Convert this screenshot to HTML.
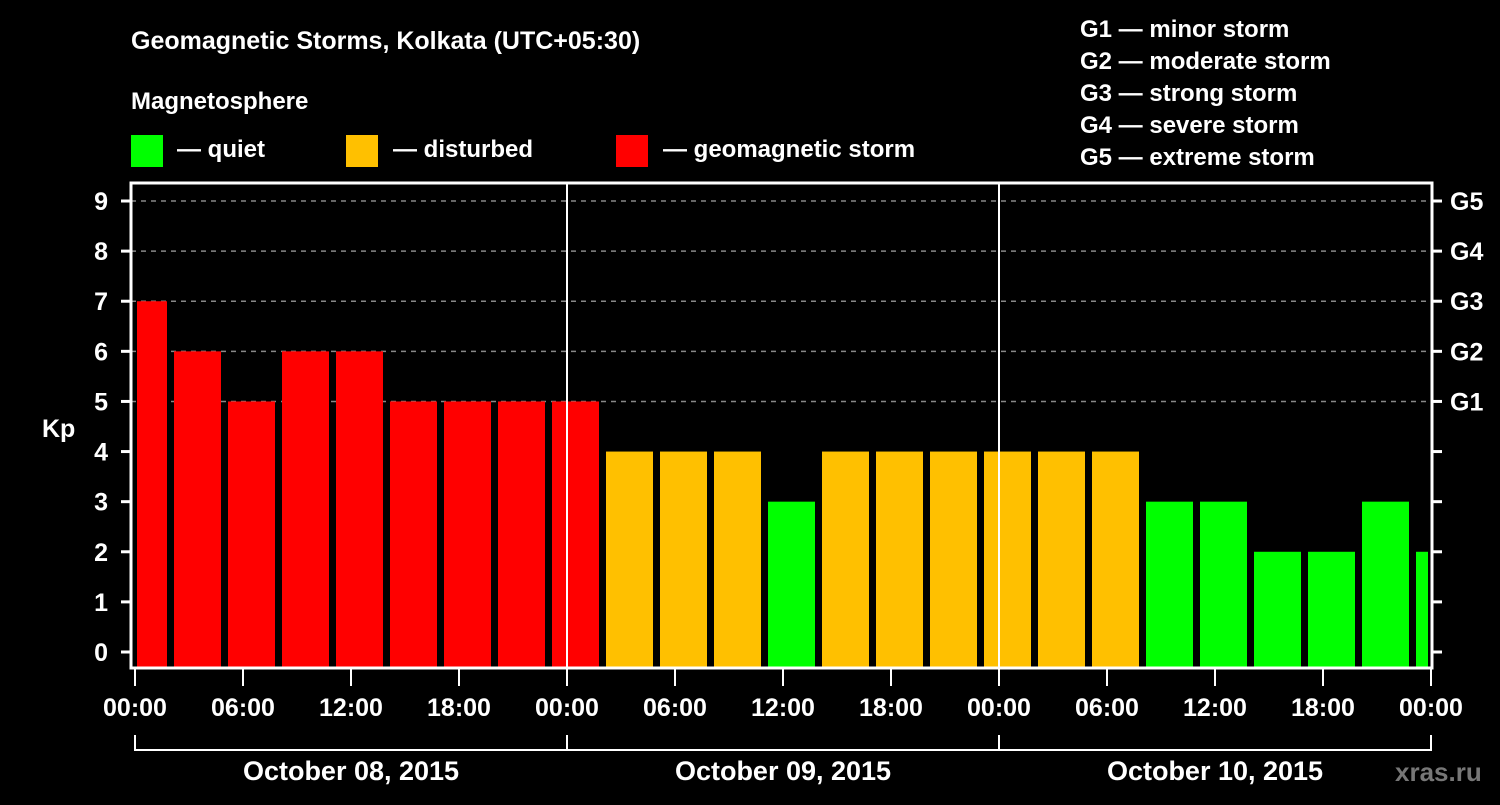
<!DOCTYPE html>
<html><head><meta charset="utf-8"><style>
body{margin:0;background:#000;width:1500px;height:800px;overflow:hidden;font-family:"Liberation Sans",sans-serif}
svg text{font-family:"Liberation Sans",sans-serif;font-weight:bold;fill:#fff}
</style></head><body>
<svg id="chart" width="1500" height="800" xmlns="http://www.w3.org/2000/svg">
<text x="131" y="49" font-size="25">Geomagnetic Storms, Kolkata (UTC+05:30)</text>
<text x="131" y="109" font-size="24">Magnetosphere</text>
<g>
<rect x="131" y="135" width="32" height="32" fill="#00ff00"/>
<text x="177" y="157" font-size="24">— quiet</text>
<rect x="346" y="135" width="32" height="32" fill="#ffc000"/>
<text x="393" y="157" font-size="24">— disturbed</text>
<rect x="616" y="135" width="32" height="32" fill="#ff0000"/>
<text x="663" y="157" font-size="24">— geomagnetic storm</text>
</g>
<g font-size="24">
<text x="1080" y="37">G1 — minor storm</text>
<text x="1080" y="69">G2 — moderate storm</text>
<text x="1080" y="101">G3 — strong storm</text>
<text x="1080" y="133">G4 — severe storm</text>
<text x="1080" y="165">G5 — extreme storm</text>
</g>
<text x="42" y="437" font-size="25">Kp</text>
<g id="grid"></g><g id="bars"></g><g id="axes"></g>
<text x="1395" y="781" font-size="26" style="fill:#777">xras.ru</text>
</svg>
<script>
const kpValues=[7,6,5,6,6,5,5,5,5,4,4,4,3,4,4,4,4,4,4,3,3,2,2,3,2];
const slotStartHours=[-1,2,5,8,11,14,17,20,23,26,29,32,35,38,41,44,47,50,53,56,59,62,65,68,71];
const yTicks=[0,1,2,3,4,5,6,7,8,9];
const gLabels=["G1","G2","G3","G4","G5"];
const xTickHours=[0,6,12,18,24,30,36,42,48,54,60,66,72];
const xTickLabels=["00:00","06:00","12:00","18:00","00:00","06:00","12:00","18:00","00:00","06:00","12:00","18:00","00:00"];
const dayLabels=["October 08, 2015","October 09, 2015","October 10, 2015"];
const NS="http://www.w3.org/2000/svg";
const L=131,R=1432,T=183,B=668;
const x=h=>135+h*(1431-135)/72;
const y=v=>652-v*(652-201)/9;
function mk(tag,attrs,parent,txt){const e=document.createElementNS(NS,tag);for(const k in attrs)e.setAttribute(k,attrs[k]);if(txt!==undefined)e.textContent=txt;document.getElementById(parent).appendChild(e);return e;}
yTicks.forEach(v=>{
 if(v>=5){const g=mk('line',{x1:L,x2:R,y1:y(v),y2:y(v),stroke:'#888','stroke-width':1.5,'stroke-dasharray':'5,5'},'grid');
 }
});
kpValues.forEach((v,i)=>{
 const s=x(slotStartHours[i]);let x0=Math.max(s+3,137),x1=Math.min(s+50,1428);
 const c=v>=5?'#ff0000':v==4?'#ffc000':'#00ff00';
 const r=mk('rect',{x:x0,y:y(v),width:x1-x0,height:B-y(v),fill:c},'bars');
 
});
[24,48].forEach(h=>{const l=mk('line',{x1:x(h),x2:x(h),y1:T,y2:B,stroke:'#fff','stroke-width':2},'axes');
 });
const f=mk('rect',{x:L,y:T,width:R-L,height:B-T,fill:'none',stroke:'#fff','stroke-width':3},'axes');

yTicks.forEach(v=>{
 const t=mk('line',{x1:121,x2:L,y1:y(v),y2:y(v),stroke:'#fff','stroke-width':3},'axes');
 
 const tl=mk('text',{x:108,y:y(v)+9,'font-size':25,'text-anchor':'end'},'axes',String(v));
 
 const rt=mk('line',{x1:R,x2:1442,y1:y(v),y2:y(v),stroke:'#fff','stroke-width':3},'axes');
 
 if(v>=5){const gl=mk('text',{x:1450,y:y(v)+9,'font-size':25},'axes',gLabels[v-5]);
 }
});
xTickHours.forEach((h,i)=>{
 const t=mk('line',{x1:x(h),x2:x(h),y1:B,y2:686,stroke:'#fff','stroke-width':2},'axes');
 
 const tl=mk('text',{x:x(h),y:716,'font-size':25,'text-anchor':'middle'},'axes',xTickLabels[i]);
 
});
const br=mk('polyline',{points:`${x(0)},735 ${x(0)},750 ${x(72)},750 ${x(72)},735`,fill:'none',stroke:'#fff','stroke-width':2},'axes');

[24,48].forEach(h=>{const l=mk('line',{x1:x(h),x2:x(h),y1:735,y2:750,stroke:'#fff','stroke-width':2},'axes');
 });
dayLabels.forEach((d,i)=>{const t=mk('text',{x:x(i*24+12),y:780,'font-size':27,'text-anchor':'middle'},'axes',d);
 });
</script>
</body></html>
